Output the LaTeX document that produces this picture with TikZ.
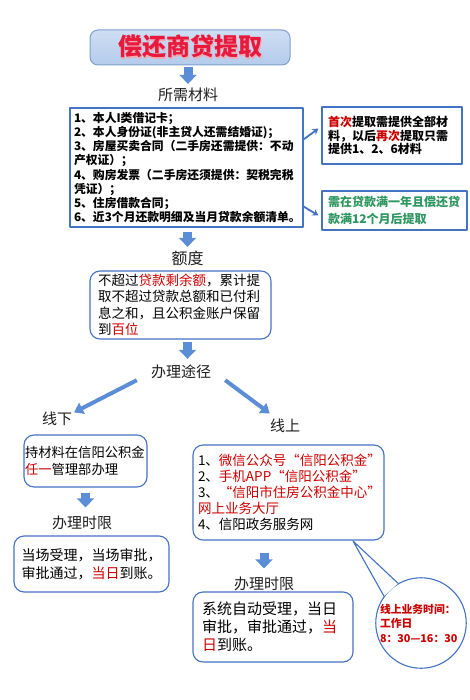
\documentclass[tikz,border=0pt]{standalone}
\usepackage{fontspec}
\setmainfont{Noto Sans CJK SC}
\usetikzlibrary{arrows.meta,positioning}
\definecolor{boxblue}{RGB}{68,114,196}
\definecolor{arrblue}{RGB}{91,142,214}
\definecolor{titleborder}{RGB}{127,159,207}
\definecolor{titlered}{RGB}{232,25,60}
\definecolor{titleshade}{RGB}{240,170,180}
\definecolor{txtred}{RGB}{204,0,0}
\definecolor{txtgreen}{RGB}{46,150,96}
\definecolor{headgray}{RGB}{30,30,30}
\newcommand{\shadowed}[1]{\makebox[0pt][l]{\kern1.4pt\raisebox{-1.4pt}{\color{titleshade}#1}}#1}
\newcommand{\red}[1]{{\color{txtred}#1}}
\begin{document}
\begin{tikzpicture}[x=1pt,y=-1pt,line join=round,
	box/.style={draw=boxblue,line width=1.1pt,fill=white,inner sep=0pt,align=left,text=black},
	rbox/.style={box,rounded corners=10pt},
	head/.style={font=\fontsize{15}{18}\selectfont,text=headgray,inner sep=1pt},
	blockarr/.style={draw=arrblue,line width=9pt,-{Triangle[width=17pt,length=9pt]},shorten <=2pt,shorten >=3pt},
	thinarr/.style={draw=boxblue,line width=1.8pt,-{Stealth[width=7pt,length=6pt]}},
	diagarr/.style={draw=arrblue,line width=4pt,-{Triangle[width=12pt,length=9pt]}}]
	\useasboundingbox (0,0) rectangle (470,700);
	\node[draw=titleborder,line width=1pt,rounded corners=8pt,top color={rgb,255:red,206;green,222;blue,243},bottom color={rgb,255:red,180;green,203;blue,236},minimum width=200pt,minimum height=35pt,font=\fontsize{24}{24}\selectfont\bfseries,text=titlered] (title) at (190,47.5) {\shadowed{偿还商贷提取}};
	\node[head] (need) at (188,95) {所需材料};
	\node[box,minimum width=233pt,minimum height=119pt,text width=225pt,font=\fontsize{11.8}{14.2}\selectfont\bfseries] (mat) at (186.5,167.5) {1、本人I类借记卡；\\2、本人身份证(非主贷人还需结婚证)；\\3、房屋买卖合同（二手房还需提供：不动\\产权证）；\\4、购房发票（二手房还须提供：契税完税\\凭证）；\\5、住房借款合同；\\6、近3个月还款明细及当月贷款余额清单。};
	\node[box,minimum width=140pt,minimum height=57pt,text width=128pt,font=\fontsize{12}{13.5}\selectfont\bfseries] (first) at (392,135.5) {\red{首次}提取需提供全部材\\料，以后\red{再次}提取只需\\提供1、2、6材料};
	\node[box,minimum width=145pt,minimum height=39pt,text width=133pt,font=\fontsize{12}{17}\selectfont\bfseries,text=txtgreen] (second) at (394.5,210.5) {需在贷款满一年且偿还贷\\款满12个月后提取};
	\draw[thinarr] ([yshift=28pt]mat.east) -- ([xshift=-3pt,yshift=7pt]first.west);
	\draw[thinarr] ([yshift=-39pt]mat.east) -- ([xshift=-3pt,yshift=-5pt]second.west);
	\node[head,font=\fontsize{16}{18}\selectfont] (amt) at (187.5,258.5) {额度};
	\node[rbox,minimum width=181pt,minimum height=68pt,text width=165pt,font=\fontsize{13.5}{16.5}\selectfont] (quota) at (180.5,305) {不超过\red{贷款剩余额}，累计提\\取不超过贷款总额和已付利\\息之和，且公积金账户保留\\到\red{百位}};
	\node[head] (way) at (181,372) {办理途径};
	\node[head] (offl) at (57,419) {线下};
	\node[head] (onl) at (285,426) {线上};
	\node[rbox,minimum width=123pt,minimum height=52pt,text width=121pt,font=\fontsize{13.3}{17}\selectfont] (offbox) at (85.5,461) {持材料在信阳公积金\\\red{任一}管理部办理};
	\node[head] (lim1) at (82,522.5) {办理时限};
	\node[rbox,minimum width=155pt,minimum height=56pt,text width=140pt,font=\fontsize{14}{18}\selectfont] (limbox1) at (91.5,564) {当场受理，当场审批，\\审批通过，\red{当日}到账。};
	\node[rbox,minimum width=191pt,minimum height=95pt,text width=181pt,font=\fontsize{13.5}{16}\selectfont] (onbox) at (288.5,492.5) {1、\red{微信公众号“信阳公积金”}\\2、\red{手机APP“信阳公积金”}\\3、\red{“信阳市住房公积金中心”}\\\red{网上业务大厅}\\4、信阳政务服务网};
	\node[head] (lim2) at (264,583.5) {办理时限};
	\node[rbox,minimum width=160pt,minimum height=70pt,text width=142pt,font=\fontsize{15}{18}\selectfont] (limbox2) at (273,627) {系统自动受理，当日\\审批，审批通过，\red{当}\\\red{日}到账。};
	\node[circle,draw=boxblue,line width=1.1pt,fill=white,inner sep=0pt,minimum size=88pt,text width=82pt,align=left,font=\fontsize{10.8}{14.5}\selectfont\bfseries,text=txtred] (tm) at (421,623) {线上业务时间：\\工作日\\\mbox{8：30—16：30}};
	\coordinate (tip) at (353,541);
	\fill[white] (tip) -- (tm.120) -- (tm.144) -- cycle;
	\draw[boxblue,line width=1.1pt] (tm.120) -- (tip) -- (tm.144);
	\draw[blockarr] (need.north |- title.south) -- (need.north);
	\draw[blockarr,shorten <=4pt] (amt.north |- mat.south) -- (amt.north);
	\draw[blockarr,shorten >=5pt] (amt.north |- quota.south) -- (amt.north |- way.north);
	\draw[blockarr,shorten <=5pt,shorten >=7pt] (offbox.south) -- (offbox.south |- lim1.north);
	\draw[blockarr,shorten <=12pt,shorten >=7pt] (lim2.north |- onbox.south) -- (lim2.north);
	\draw[diagarr] ([xshift=-13pt]way.south west) -- ([xshift=17pt,yshift=-1.5pt]offl.north);
	\draw[diagarr] ([xshift=13pt]way.south east) -- ([xshift=1pt,yshift=4.5pt]onl.north west);
\end{tikzpicture}
\end{document}
